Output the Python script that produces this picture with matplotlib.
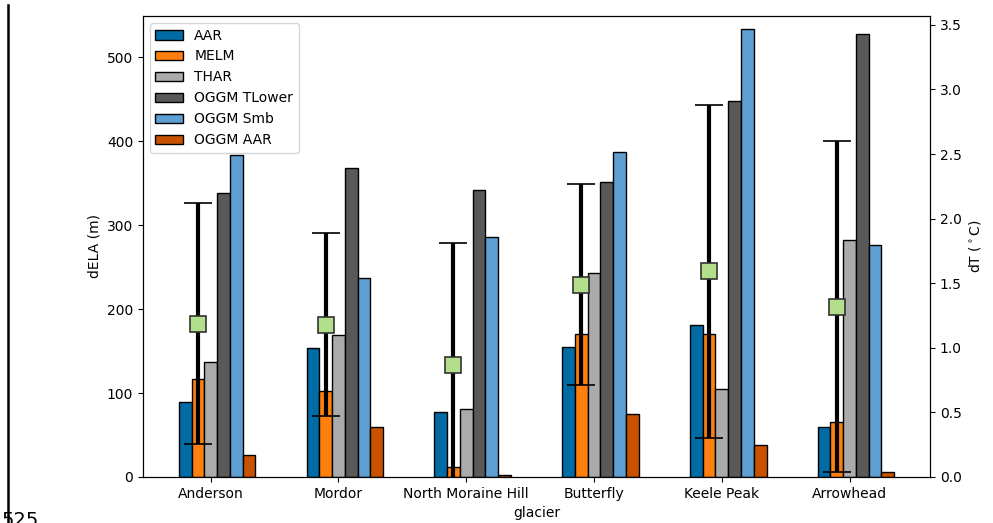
import numpy as np
import matplotlib
matplotlib.use("Agg")
import matplotlib.pyplot as plt
from matplotlib.lines import Line2D

glaciers = ["Anderson", "Mordor", "North Moraine Hill", "Butterfly", "Keele Peak", "Arrowhead"]
methods = ["AAR", "MELM", "THAR", "OGGM TLower", "OGGM Smb", "OGGM AAR"]

dela_aar = [89, 154, 77, 155, 181, 59]
dela_melm = [117, 102, 12, 170, 170, 66]
dela_thar = [137, 169, 81, 243, 105, 282]
dela_tlower = [338, 368, 342, 351, 448, 528]
dela_smb = [383, 237, 286, 387, 534, 276]
dela_oggm_aar = [26, 60, 2, 75, 38, 6]

dt_mean = [1.187, 1.18, 0.867, 1.49, 1.593, 1.319]
dt_err = [0.931, 0.71, 0.943, 0.78, 1.29, 1.28]

colors = ['#006BA4', '#FF800E', '#ABABAB', '#595959', '#5F9ED1', '#C85200']
lapse_rate = 0.0065  # degC per m

fig = plt.figure(figsize=(9.93, 5.23), dpi=100)
ax = fig.add_axes([0.144, 0.088, 0.7926, 0.8814])

x = np.arange(len(glaciers))
width = 0.1
series = [dela_aar, dela_melm, dela_thar, dela_tlower, dela_smb, dela_oggm_aar]
for i, (vals, name) in enumerate(zip(series, methods)):
    ax.bar(x + (i - 2) * width, vals, width, color=colors[i], edgecolor='black',
           linewidth=1, label=name)

ax.set_xticks(x)
ax.set_xticklabels(glaciers)
ax.set_xlabel("glacier")
ax.set_ylabel("dELA (m)")
ymax = 549
ax.set_ylim(0, ymax)
ax.legend(loc='upper left')

ax2 = ax.twinx()
ax2.errorbar(x - width, dt_mean, yerr=dt_err, fmt='s', color='black', ecolor='black',
             elinewidth=3, capsize=10, capthick=1.5, markersize=11,
             markerfacecolor='#b2df8a', markeredgecolor='#333333', markeredgewidth=1.2)
ax2.set_ylim(0, ymax * lapse_rate)
ax2.set_ylabel("dT ($^\\circ$C)")

fig.add_artist(Line2D([7.5 / 993, 7.5 / 993], [0, 1 - 5 / 523], transform=fig.transFigure,
                      color='black', linewidth=1.8))
fig.text(0.002, -0.014, "525", fontsize=14, ha='left', va='bottom')

fig.savefig("out.png", dpi=100)
